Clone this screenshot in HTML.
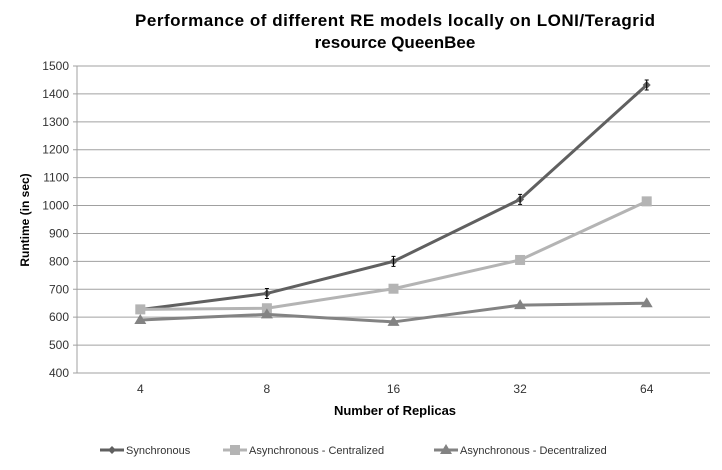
<!DOCTYPE html>
<html><head><style>
body{margin:0;background:#fff;}
svg text{font-family:"Liberation Sans",sans-serif;}
</style></head><body>
<svg width="722" height="465">
<text x="395" y="26" text-anchor="middle" font-size="17" font-weight="bold" fill="#000" textLength="520">Performance of different RE models locally on LONI/Teragrid</text>
<text x="395" y="48" text-anchor="middle" font-size="17" font-weight="bold" fill="#000">resource QueenBee</text>
<g id="grid"></g><g id="series"></g>
<text x="395" y="415" text-anchor="middle" font-size="13" font-weight="bold">Number of Replicas</text>
<text transform="translate(29,220) rotate(-90)" text-anchor="middle" font-size="12" font-weight="bold">Runtime (in sec)</text>
<g id="legend"></g>
</svg>
<script>
const categories=["4","8","16","32","64"];
const syncVals=[627,685,800,1022,1432];
const centVals=[628,632,702,805,1015];
const decVals=[590,610,583,643,650];
const yTicks=[400,500,600,700,800,900,1000,1100,1200,1300,1400,1500];
const NS="http://www.w3.org/2000/svg";
const x0=77,x1=710,yTop=66,yBot=373;
const xs=i=>x0+(x1-x0)/categories.length*(i+0.5);
const ys=v=>yBot-(v-400)/1100*(yBot-yTop);
function mk(t,a,p){const e=document.createElementNS(NS,t);for(const k in a)e.setAttribute(k,a[k]);p.appendChild(e);return e;}
const g=document.getElementById('grid');
yTicks.forEach(v=>{
 const l=mk('line',{x1:x0-4,x2:x1,y1:ys(v),y2:ys(v),stroke:'#a0a0a0','stroke-width':1},g);
 
 
 const t=mk('text',{x:x0-8,y:ys(v)+4,'text-anchor':'end','font-size':12,fill:'#333'},g);t.textContent=v;
 
 
});
mk('line',{x1:x0,x2:x0,y1:yTop,y2:yBot,stroke:'#a0a0a0'},g);
categories.forEach((c,i)=>{
 const t=mk('text',{x:xs(i),y:yBot+20,'text-anchor':'middle','font-size':12,fill:'#333'},g);t.textContent=c;
 
 
});
const s=document.getElementById('series');
function marker(type,x,y,col,p){
 if(type==='d')return mk('polygon',{points:`${x},${y-4} ${x+4},${y} ${x},${y+4} ${x-4},${y}`,fill:col},p);
 if(type==='s')return mk('rect',{x:x-5,y:y-5,width:10,height:10,fill:col},p);
 return mk('polygon',{points:`${x},${y-6} ${x+6},${y+4} ${x-6},${y+4}`,fill:col},p);
}
const series=[
 {name:'synchronous',vals:syncVals,col:'#606060',m:'d',err:true},
 {name:'centralized',vals:centVals,col:'#b4b4b4',m:'s'},
 {name:'decentralized',vals:decVals,col:'#838383',m:'t'}];
series.forEach(S=>{
 const pl=mk('polyline',{points:S.vals.map((v,i)=>xs(i)+','+ys(v)).join(' '),fill:'none',stroke:S.col,'stroke-width':3},s);
 
 
 S.vals.forEach((v,i)=>{
  const m=marker(S.m,xs(i),ys(v),S.col,s);
  
  
  if(S.err&&i>0){const y=ys(v);mk('path',{d:`M${xs(i)-2},${y-5}h4M${xs(i)},${y-5}v10M${xs(i)-2},${y+5}h4`,stroke:'#000','stroke-width':1,fill:'none'},s);}
 });
});
const lg=document.getElementById('legend');
const leg=[['Synchronous',100,'#606060','d'],['Asynchronous - Centralized',223,'#b4b4b4','s'],['Asynchronous - Decentralized',434,'#838383','t']];
leg.forEach(L=>{
 const gr=mk('g',{},lg);
 
 
 mk('line',{x1:L[1],x2:L[1]+24,y1:450,y2:450,stroke:L[2],'stroke-width':3},gr);
 marker(L[3],L[1]+12,450,L[2],gr);
 const t=mk('text',{x:L[1]+26,y:454,'font-size':11,fill:'#333'},gr);t.textContent=L[0];
});
</script>
</body></html>
